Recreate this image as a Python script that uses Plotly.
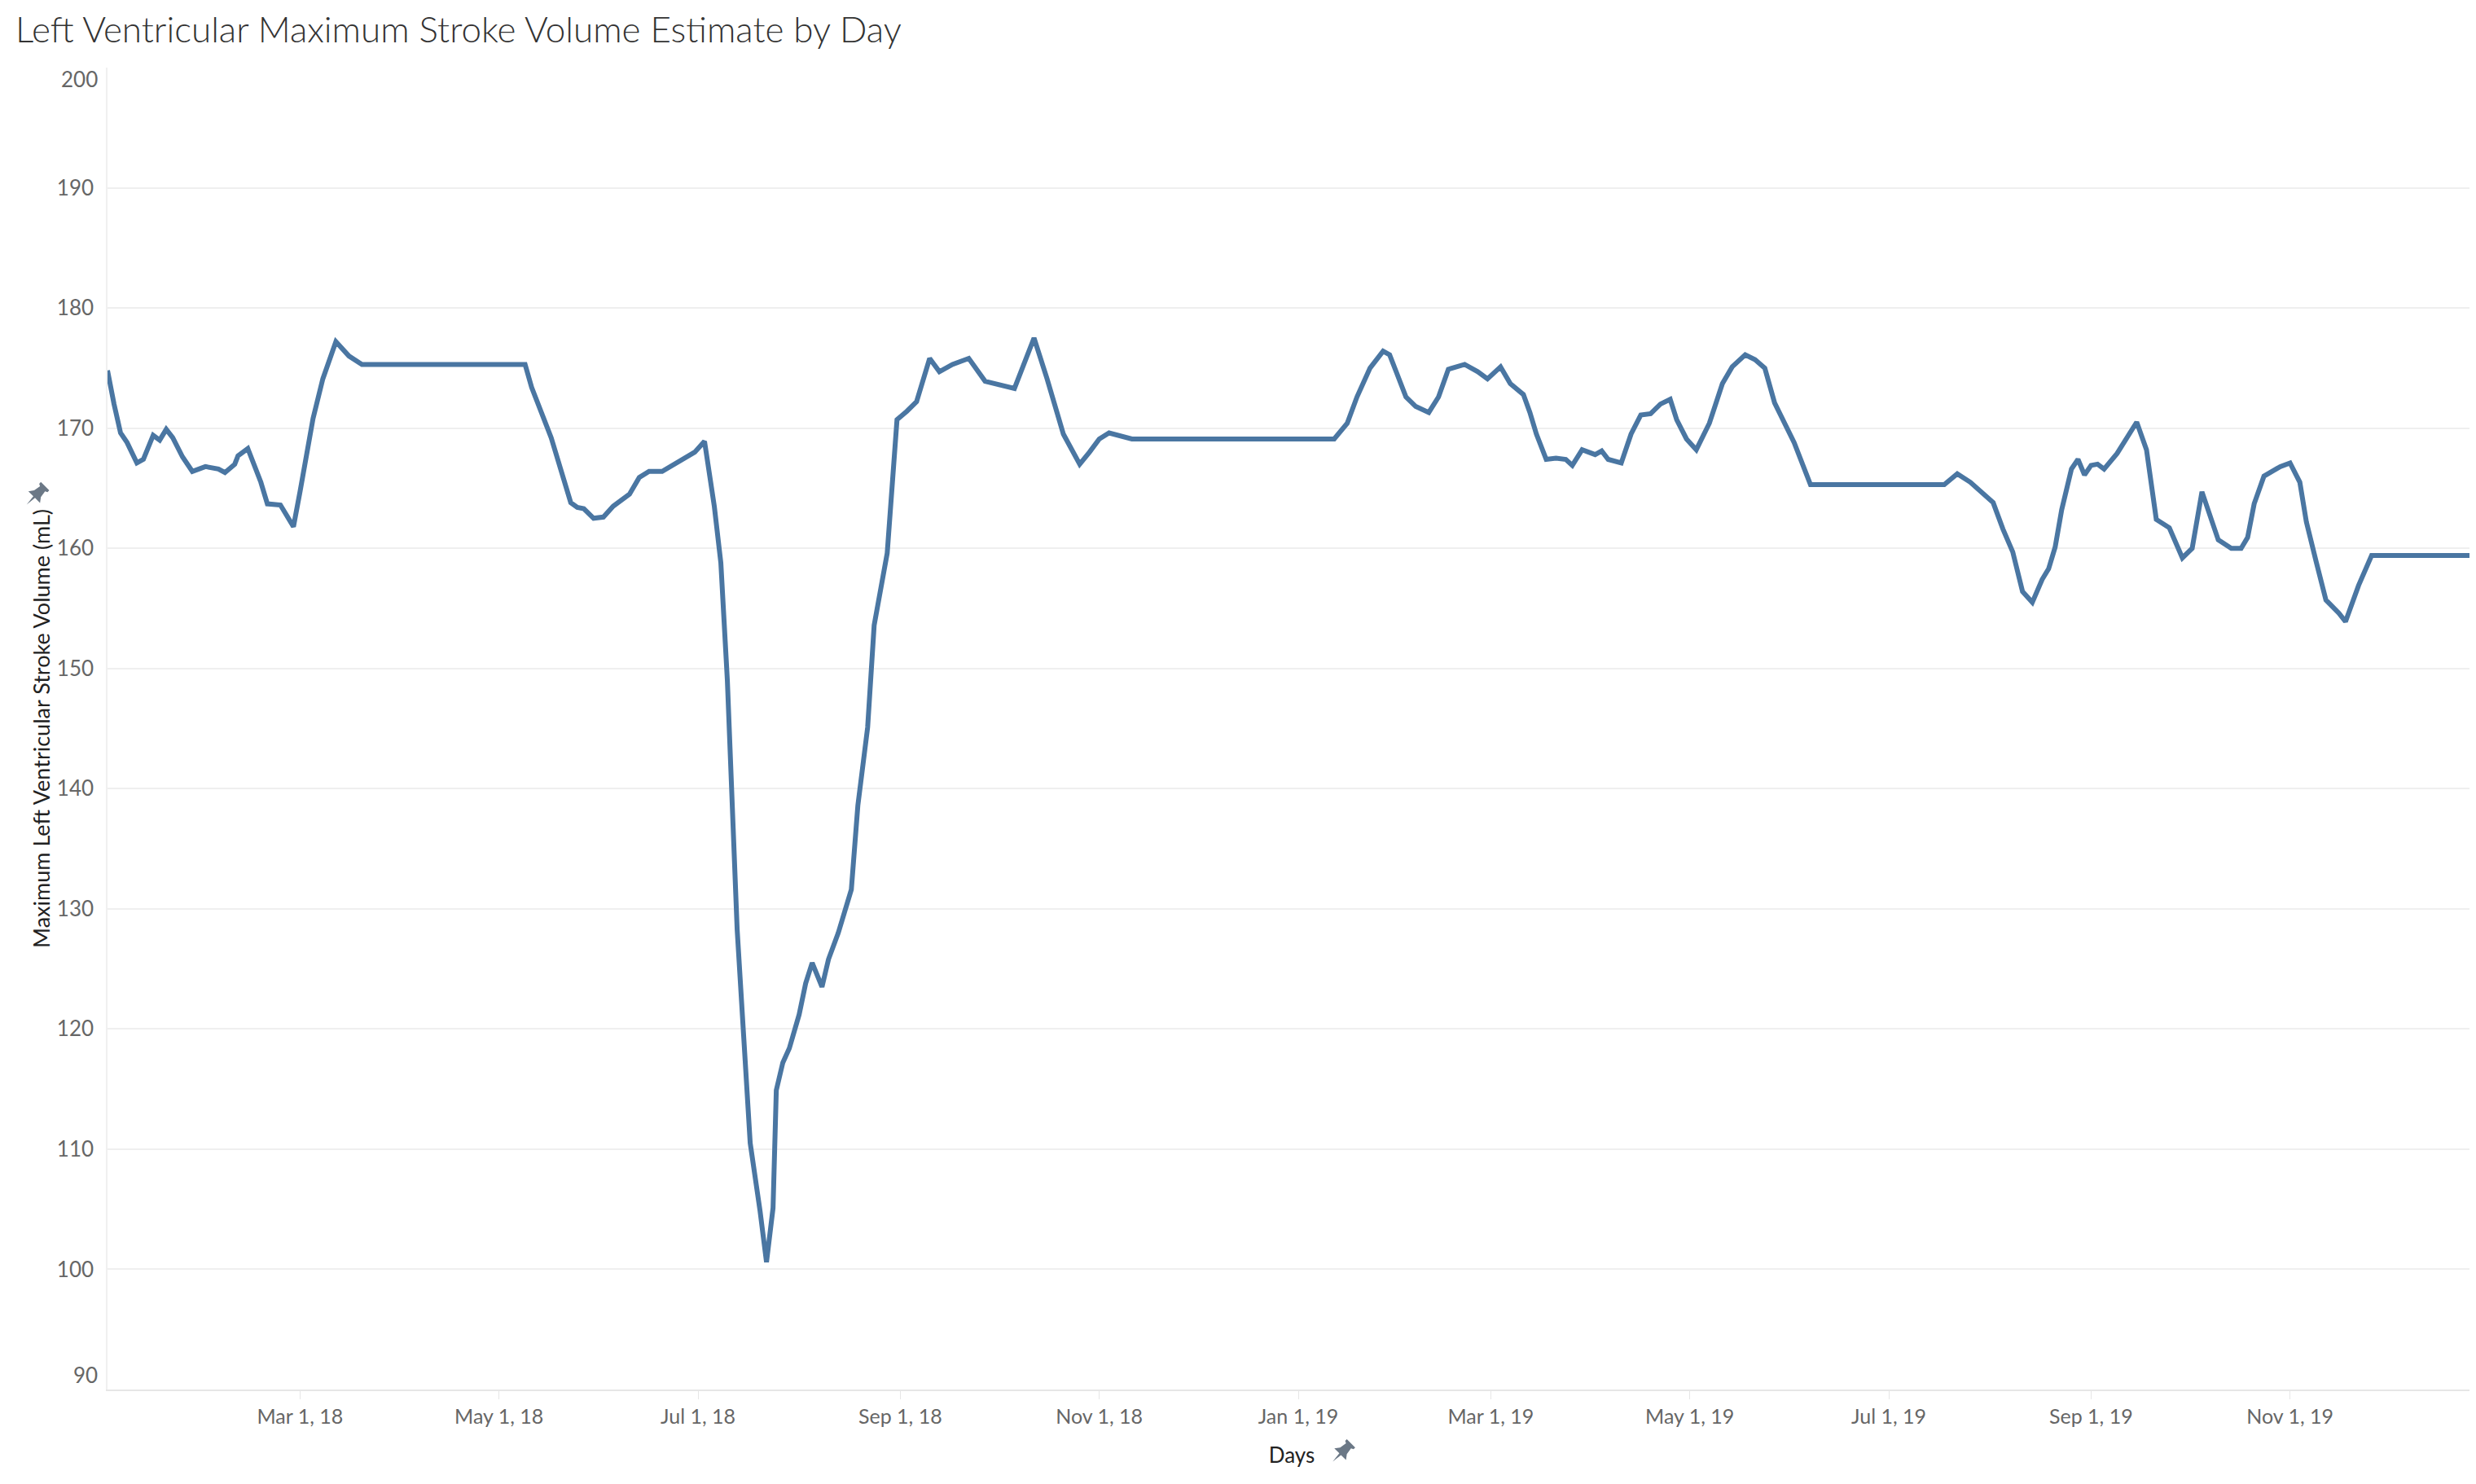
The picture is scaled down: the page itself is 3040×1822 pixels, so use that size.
import math
import plotly.graph_objects as go

dates = [
    "2018-01-01", "2018-01-02", "2018-01-03", "2018-01-05", "2018-01-07", "2018-01-10", "2018-01-12",
    "2018-01-15", "2018-01-17", "2018-01-19", "2018-01-21", "2018-01-24", "2018-01-27", "2018-01-31",
    "2018-02-04", "2018-02-06", "2018-02-09", "2018-02-10", "2018-02-13", "2018-02-17", "2018-02-19",
    "2018-02-23", "2018-02-25", "2018-02-27", "2018-03-01", "2018-03-05", "2018-03-08", "2018-03-12",
    "2018-03-16", "2018-03-20", "2018-05-09", "2018-05-11", "2018-05-17", "2018-05-23", "2018-05-25",
    "2018-05-27", "2018-05-30", "2018-06-02", "2018-06-05", "2018-06-10", "2018-06-13", "2018-06-16",
    "2018-06-20", "2018-06-26", "2018-06-30", "2018-07-03", "2018-07-06", "2018-07-08", "2018-07-10",
    "2018-07-13", "2018-07-17", "2018-07-20", "2018-07-22", "2018-07-24", "2018-07-25", "2018-07-27",
    "2018-07-29", "2018-08-01", "2018-08-03", "2018-08-05", "2018-08-08", "2018-08-10", "2018-08-13",
    "2018-08-17", "2018-08-19", "2018-08-22", "2018-08-24", "2018-08-28", "2018-08-30", "2018-08-31",
    "2018-09-03", "2018-09-06", "2018-09-10", "2018-09-13", "2018-09-17", "2018-09-22", "2018-09-27",
    "2018-10-02", "2018-10-06", "2018-10-12", "2018-10-16", "2018-10-21", "2018-10-26", "2018-10-29",
    "2018-11-01", "2018-11-04", "2018-11-11", "2019-01-12", "2019-01-16", "2019-01-19", "2019-01-23",
    "2019-01-27", "2019-01-29", "2019-01-31", "2019-02-03", "2019-02-06", "2019-02-10", "2019-02-13",
    "2019-02-16", "2019-02-21", "2019-02-25", "2019-02-28", "2019-03-04", "2019-03-07", "2019-03-09",
    "2019-03-11", "2019-03-13", "2019-03-15", "2019-03-18", "2019-03-21", "2019-03-24", "2019-03-26",
    "2019-03-29", "2019-04-02", "2019-04-04", "2019-04-06", "2019-04-10", "2019-04-13", "2019-04-16",
    "2019-04-19", "2019-04-22", "2019-04-25", "2019-04-27", "2019-04-30", "2019-05-03", "2019-05-07",
    "2019-05-11", "2019-05-14", "2019-05-18", "2019-05-21", "2019-05-24", "2019-05-27", "2019-06-02",
    "2019-06-07", "2019-07-18", "2019-07-22", "2019-07-26", "2019-07-30", "2019-08-02", "2019-08-05",
    "2019-08-08", "2019-08-11", "2019-08-14", "2019-08-17", "2019-08-19", "2019-08-21", "2019-08-23",
    "2019-08-26", "2019-08-28", "2019-08-30", "2019-09-01", "2019-09-03", "2019-09-05", "2019-09-09",
    "2019-09-12", "2019-09-15", "2019-09-18", "2019-09-21", "2019-09-25", "2019-09-29", "2019-10-02",
    "2019-10-05", "2019-10-10", "2019-10-14", "2019-10-17", "2019-10-19", "2019-10-21", "2019-10-24",
    "2019-10-29", "2019-11-01", "2019-11-04", "2019-11-06", "2019-11-09", "2019-11-12", "2019-11-16",
    "2019-11-18", "2019-11-22", "2019-11-26", "2019-12-31",
]

stroke_volume = [
    174.8, 173.2, 172.0, 169.6, 168.8, 167.1, 167.4,
    169.4, 169.0, 169.9, 169.2, 167.6, 166.4, 166.8,
    166.6, 166.3, 167.0, 167.7, 168.3, 165.5, 163.7,
    163.6, 162.7, 161.8, 164.7, 170.8, 174.1, 177.2,
    176.0, 175.3, 175.3, 173.4, 169.2, 163.8, 163.4,
    163.3, 162.5, 162.6, 163.5, 164.5, 165.9, 166.4,
    166.4, 167.4, 168.0, 168.9, 163.5, 158.8, 149.0,
    128.3, 110.5, 104.9, 100.6, 105.1, 114.9, 117.2,
    118.4, 121.2, 123.8, 125.5, 123.5, 125.8, 128.0,
    131.6, 138.6, 145.1, 153.6, 159.6, 166.2, 170.7,
    171.4, 172.2, 175.8, 174.7, 175.3, 175.8, 173.9,
    173.6, 173.3, 177.5, 174.1, 169.5, 167.0, 168.0,
    169.1, 169.6, 169.1, 169.1, 170.4, 172.6, 175.0,
    176.4, 176.1, 174.7, 172.6, 171.8, 171.3, 172.6,
    174.9, 175.3, 174.7, 174.1, 175.1, 173.7, 173.3,
    172.8, 171.3, 169.5, 167.4, 167.5, 167.4, 166.9,
    168.2, 167.8, 168.1, 167.4, 167.1, 169.5, 171.1,
    171.2, 172.0, 172.4, 170.7, 169.1, 168.2, 170.4,
    173.7, 175.1, 176.1, 175.7, 175.0, 172.1, 168.8,
    165.3, 165.3, 166.2, 165.5, 164.6, 163.8, 161.6,
    159.7, 156.4, 155.5, 157.4, 158.3, 160.1, 163.2,
    166.6, 167.4, 166.1, 166.9, 167.0, 166.6, 167.9,
    169.2, 170.5, 168.2, 162.4, 161.7, 159.2, 160.0,
    164.7, 160.7, 160.0, 160.0, 160.9, 163.7, 166.0,
    166.8, 167.1, 165.5, 162.2, 158.9, 155.7, 154.6,
    153.9, 156.9, 159.4, 159.4,
]

x_tick_vals = ["2018-03-01", "2018-05-01", "2018-07-01", "2018-09-01", "2018-11-01",
               "2019-01-01", "2019-03-01", "2019-05-01", "2019-07-01", "2019-09-01", "2019-11-01"]
x_tick_text = ["Mar 1, 18", "May 1, 18", "Jul 1, 18", "Sep 1, 18", "Nov 1, 18",
               "Jan 1, 19", "Mar 1, 19", "May 1, 19", "Jul 1, 19", "Sep 1, 19", "Nov 1, 19"]
y_tick_vals = [100, 110, 120, 130, 140, 150, 160, 170, 180, 190]
y_end_ticks = [200, 90]

title_text = "Left Ventricular Maximum Stroke Volume Estimate by Day"
y_title = "Maximum Left Ventricular Stroke Volume (mL)"
x_title = "Days"

fig = go.Figure()
fig.add_trace(go.Scatter(
    x=dates, y=stroke_volume, mode="lines",
    line=dict(color="#4a76a2", width=6, shape="linear"),
    hoverinfo="x+y",
))

# Tableau nudges the first/last axis labels inward
for v, shift in zip(y_end_ticks, [-14, 18]):
    fig.add_annotation(
        x=0, xref="paper", xanchor="right", xshift=-10,
        y=v, yref="y", yanchor="middle", yshift=shift,
        text=str(v), showarrow=False,
        font=dict(size=26, color="#666666", family="Lato, Open Sans, sans-serif"),
    )


# small "pinned" icons next to the axis titles (Tableau UI glyph)
def pin_path(scale=1.0):
    pts = [(0, -12), (1, -3), (7, -3), (4, 1), (3, 7), (5, 8), (5, 10),
           (-5, 10), (-5, 8), (-3, 7), (-4, 1), (-7, -3), (-1, -3)]
    c = math.cos(math.radians(-45))
    s = math.sin(math.radians(-45))
    out = []
    for i, (px, py) in enumerate(pts):
        rx = (px * c - py * s) * scale
        ry = (px * s + py * c) * scale
        out.append(("M" if i == 0 else "L") + f"{rx:.2f},{ry:.2f}")
    return " ".join(out) + " Z"


for ax, ay in [(0.5215, -0.047), (-0.0299, 0.677)]:
    fig.add_shape(
        type="path", path=pin_path(1.45),
        xref="paper", yref="paper", xsizemode="pixel", ysizemode="pixel",
        xanchor=ax, yanchor=ay,
        fillcolor="#6b7886", line=dict(width=0),
    )

fig.update_layout(
    width=3032, height=1814,
    paper_bgcolor="white", plot_bgcolor="white",
    margin=dict(l=124, r=0, t=75, b=116, autoexpand=False),
    showlegend=False,
    font=dict(family="Lato, Open Sans, sans-serif", color="#666666"),
    title=dict(text=title_text, x=0.0036, xanchor="left", y=0.984, yanchor="middle",
               font=dict(size=44, color="#333333", family="Lato, Open Sans, sans-serif", weight=300)),
    xaxis=dict(
        type="date", range=["2018-01-01", "2019-12-28"],
        tickvals=x_tick_vals, ticktext=x_tick_text,
        tickfont=dict(size=25, color="#666666"),
        showgrid=False, zeroline=False,
        showline=True, linecolor="#e6e6e6", linewidth=2,
        ticks="outside", ticklen=10, tickcolor="#e6e6e6", tickwidth=1,
        automargin=False,
        title=dict(text=x_title, font=dict(size=26, color="#222222"), standoff=26),
    ),
    yaxis=dict(
        range=[90, 200], tickvals=y_tick_vals + y_end_ticks,
        ticktext=[str(v) for v in y_tick_vals] + ["", ""],
        tickfont=dict(size=26, color="#666666"),
        showgrid=True, gridcolor="#efefef", gridwidth=1.5,
        zeroline=False,
        showline=True, linecolor="#f0f0f0", linewidth=1.5,
        ticks="", ticklabelstandoff=10,
        automargin=False,
        title=dict(text=y_title, font=dict(size=27, color="#222222"), standoff=0),
    ),
)

fig.write_html("out.html")
